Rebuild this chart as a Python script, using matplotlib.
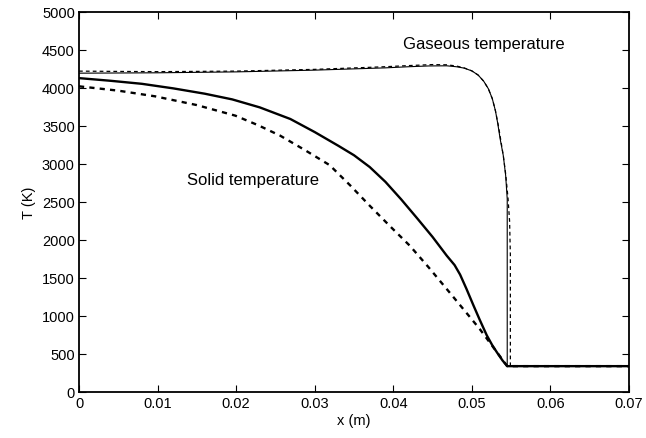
import matplotlib
matplotlib.use("Agg")
import matplotlib.pyplot as plt

plt.rcParams['font.family'] = ['Liberation Sans', 'DejaVu Sans']

# solid phase temperature, two cases (solid / dashed)
x_solid = [0, 0.004, 0.008, 0.012, 0.016, 0.0195, 0.023, 0.0269, 0.030, 0.033, 0.035, 0.037,
           0.039, 0.041, 0.043, 0.045, 0.0468, 0.0478, 0.0485, 0.0493, 0.0502, 0.051, 0.0519,
           0.0526, 0.0532, 0.0539, 0.0545, 0.07]
T_solid = [4130, 4095, 4055, 3995, 3925, 3850, 3745, 3592, 3420, 3240, 3115, 2960,
           2765, 2535, 2290, 2040, 1794, 1670, 1545, 1360, 1140, 950, 745,
           615, 520, 415, 340, 340]

x_solid2 = [0, 0.005, 0.0097, 0.015, 0.0199, 0.0228, 0.0256, 0.0288, 0.0319, 0.0345, 0.037,
            0.0395, 0.0421, 0.0445, 0.0468, 0.049, 0.051, 0.0532, 0.0545, 0.07]
T_solid2 = [4022, 3965, 3890, 3775, 3636, 3510, 3373, 3180, 2985, 2720, 2451,
            2190, 1925, 1640, 1355, 1080, 829, 522, 340, 340]

# gaseous temperature, two cases
x_gas = [0, 0.01, 0.02, 0.03, 0.036, 0.039, 0.042, 0.0445, 0.0468, 0.048, 0.049, 0.050,
         0.0508, 0.0515, 0.0521, 0.0526, 0.053, 0.0533, 0.0536, 0.054, 0.0543, 0.0545,
         0.0545, 0.07]
T_gas = [4195, 4200, 4212, 4235, 4255, 4265, 4280, 4290, 4292, 4280, 4262, 4225,
         4170, 4090, 3990, 3860, 3700, 3530, 3330, 3110, 2850, 2540,
         340, 340]

x_gas2 = [0, 0.005, 0.01, 0.02, 0.03, 0.036, 0.039, 0.042, 0.045, 0.0468, 0.048, 0.049,
          0.050, 0.0508, 0.0515, 0.0521, 0.0526, 0.053, 0.0534, 0.0537, 0.054, 0.0543,
          0.0546, 0.0548, 0.0549, 0.0549, 0.07]
T_gas2 = [4222, 4218, 4215, 4222, 4245, 4268, 4280, 4295, 4308, 4305, 4290, 4265,
          4225, 4170, 4090, 3990, 3860, 3700, 3490, 3300, 3110, 2870,
          2550, 2250, 1800, 340, 340]

fig = plt.figure(figsize=(6.46, 4.39), dpi=100)
ax = fig.add_axes([0.1223, 0.1048, 0.8514, 0.8656])

ax.plot(x_gas, T_gas, color='black', lw=0.8)
ax.plot(x_gas2, T_gas2, color='black', lw=0.9, ls=(0, (3, 2.5)))
ax.plot(x_solid, T_solid, color='black', lw=1.7)
ax.plot(x_solid2, T_solid2, color='black', lw=1.7, ls=(0, (2.2, 2.2)))

ax.text(0.0515, 4580, 'Gaseous temperature', fontsize=12, ha='center', va='center')
ax.text(0.0221, 2800, 'Solid temperature', fontsize=12, ha='center', va='center')

ax.set_xlim(0, 0.07)
ax.set_ylim(0, 5000)
ax.set_xticks([0, 0.01, 0.02, 0.03, 0.04, 0.05, 0.06, 0.07])
ax.set_xticklabels(['0', '0.01', '0.02', '0.03', '0.04', '0.05', '0.06', '0.07'])
ax.set_yticks(range(0, 5001, 500))
ax.tick_params(direction='in', top=True, right=True, length=5, width=0.8, labelsize=10.5, pad=3)
for s in ax.spines.values():
    s.set_linewidth(1.3)

ax.set_xlabel('x (m)', fontsize=10.5, labelpad=2)
ax.set_ylabel('T (K)', fontsize=10.5, labelpad=4)

fig.savefig('out.png', dpi=100)
